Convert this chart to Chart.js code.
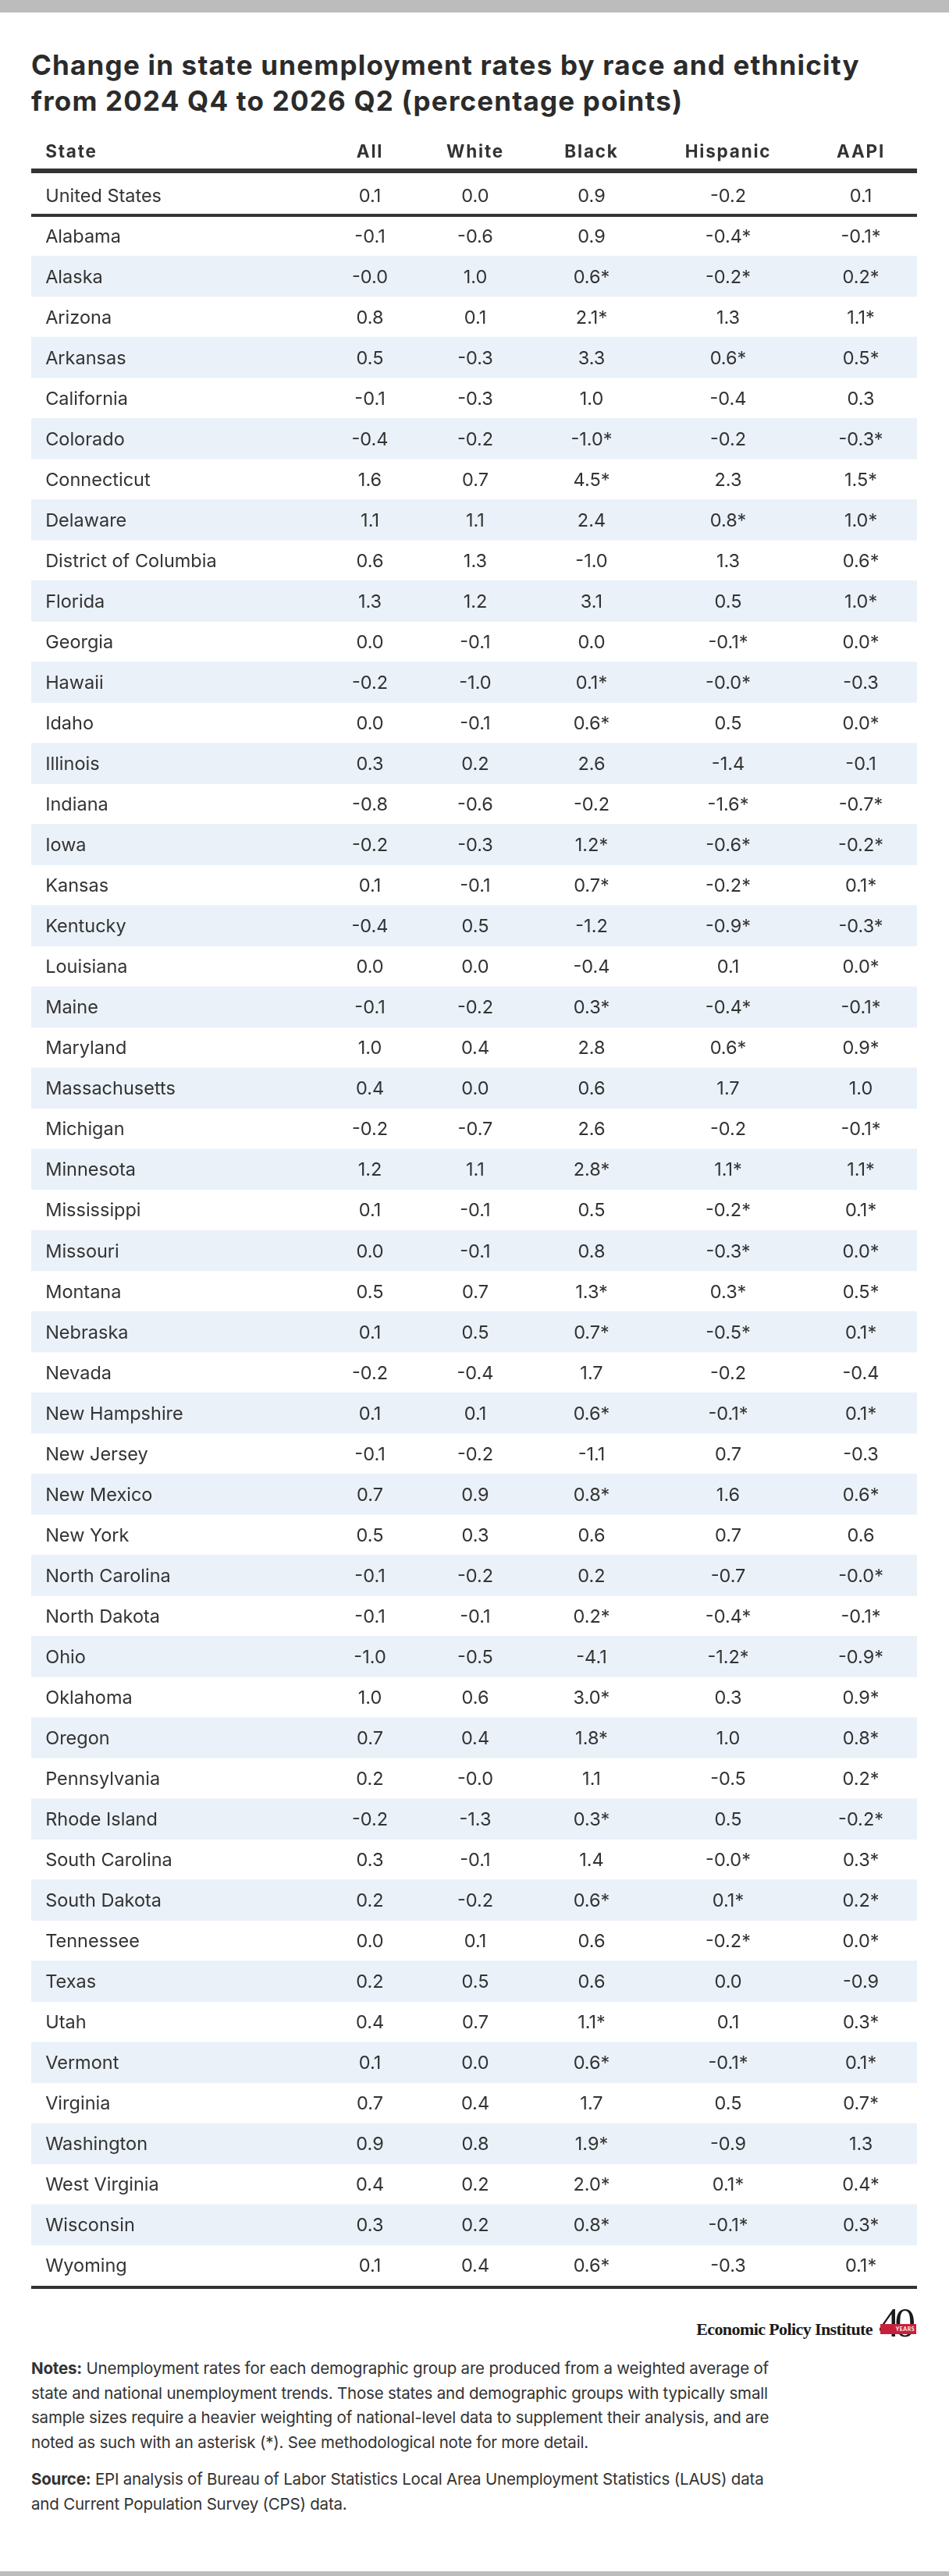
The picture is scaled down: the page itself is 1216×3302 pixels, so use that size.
<!DOCTYPE html>
<html lang="en">
<head>
	<meta charset="UTF-8">
	<meta name="viewport" content="width=device-width, initial-scale=1.0">
	<title>Change in state unemployment rates by race and ethnicity</title>
	<script src="https://cdn.jsdelivr.net/npm/chart.js"></script>
	<style>
		body {
			margin: 0;
			width: 1216px;
			height: 3302px;
			position: relative;
			overflow: hidden;
			background: #fff;
			font-family: Inter, Lato, sans-serif;
			color: #333;
		}
		.bar-top, .bar-bottom {
			position: absolute;
			left: 0;
			width: 1216px;
			background: #bcbcbc;
		}
		.bar-top { top: 0; height: 16px; }
		.bar-bottom { top: 3296px; height: 6px; }
		h1 {
			position: absolute;
			left: 40px;
			top: 60px;
			margin: 0;
			font-size: 35px;
			line-height: 46px;
			font-weight: 700;
			letter-spacing: 1.2px;
			color: #2b2b2b;
			white-space: nowrap;
		}
		#table-wrap {
			position: absolute;
			left: 0;
			top: 150px;
			width: 1216px;
			height: 2790px;
		}
		.logo-name {
			position: absolute;
			right: 98px;
			top: 2975px;
			font-family: "Liberation Serif", serif;
			font-weight: 700;
			font-size: 22px;
			line-height: 22px;
			letter-spacing: -0.6px;
			color: #1a1a1a;
			white-space: nowrap;
		}
		.logo-forty {
			position: absolute;
			left: 1126px;
			top: 2951px;
			font-family: "Liberation Serif", serif;
			font-size: 53px;
			line-height: 53px;
			letter-spacing: -6px;
			color: #1a1a1a;
		}
		.logo-years {
			position: absolute;
			left: 1128px;
			top: 2979px;
			width: 46px;
			height: 13px;
			background: #c8203b;
			color: #fff;
			font-family: Lato, sans-serif;
			font-weight: 700;
			font-size: 7px;
			line-height: 13px;
			text-align: right;
			padding-right: 2px;
			box-sizing: border-box;
			letter-spacing: 0.5px;
		}
		.notes, .source {
			position: absolute;
			left: 40px;
			margin: 0;
			font-size: 20.5px;
			line-height: 31.7px;
			letter-spacing: -0.2px;
			white-space: nowrap;
			color: #333;
		}
		.notes b, .source b { font-weight: 700; }
		.notes { top: 3020px; }
		.source { top: 3162px; }
	</style>
</head>
<body>

	<div class="bar-top"></div>

	<h1>Change in state unemployment rates by race and ethnicity<br>from 2024 Q4 to 2026 Q2 (percentage points)</h1>

	<div id="table-wrap">
		<canvas id="tableChart" width="1216" height="2790"></canvas>
	</div>

	<div class="logo-name">Economic Policy Institute</div>
	<div class="logo-forty">40</div>
	<div class="logo-years">YEARS</div>

	<p class="notes"><b>Notes:</b> Unemployment rates for each demographic group are produced from a weighted average of<br>state and national unemployment trends. Those states and demographic groups with typically small<br>sample sizes require a heavier weighting of national-level data to supplement their analysis, and are<br>noted as such with an asterisk (*). See methodological note for more detail.</p>
	<p class="source"><b>Source:</b> EPI analysis of Bureau of Labor Statistics Local Area Unemployment Statistics (LAUS) data<br>and Current Population Survey (CPS) data.</p>

	<div class="bar-bottom"></div>

	<script>
		// Table data
		const stateHeader = 'State';
		const columns = ['All', 'White', 'Black', 'Hispanic', 'AAPI'];

		const states = ['United States', 'Alabama', 'Alaska', 'Arizona', 'Arkansas', 'California', 'Colorado',
			'Connecticut', 'Delaware', 'District of Columbia', 'Florida', 'Georgia', 'Hawaii', 'Idaho', 'Illinois',
			'Indiana', 'Iowa', 'Kansas', 'Kentucky', 'Louisiana', 'Maine', 'Maryland', 'Massachusetts', 'Michigan',
			'Minnesota', 'Mississippi', 'Missouri', 'Montana', 'Nebraska', 'Nevada', 'New Hampshire', 'New Jersey',
			'New Mexico', 'New York', 'North Carolina', 'North Dakota', 'Ohio', 'Oklahoma', 'Oregon', 'Pennsylvania',
			'Rhode Island', 'South Carolina', 'South Dakota', 'Tennessee', 'Texas', 'Utah', 'Vermont', 'Virginia',
			'Washington', 'West Virginia', 'Wisconsin', 'Wyoming'];

		const allRates = [0.1, -0.1, -0.0, 0.8, 0.5, -0.1, -0.4, 1.6, 1.1, 0.6, 1.3, 0.0, -0.2, 0.0, 0.3,
			-0.8, -0.2, 0.1, -0.4, 0.0, -0.1, 1.0, 0.4, -0.2, 1.2, 0.1, 0.0, 0.5, 0.1, -0.2, 0.1, -0.1,
			0.7, 0.5, -0.1, -0.1, -1.0, 1.0, 0.7, 0.2, -0.2, 0.3, 0.2, 0.0, 0.2, 0.4, 0.1, 0.7, 0.9, 0.4, 0.3, 0.1];

		const whiteRates = [0.0, -0.6, 1.0, 0.1, -0.3, -0.3, -0.2, 0.7, 1.1, 1.3, 1.2, -0.1, -1.0, -0.1, 0.2,
			-0.6, -0.3, -0.1, 0.5, 0.0, -0.2, 0.4, 0.0, -0.7, 1.1, -0.1, -0.1, 0.7, 0.5, -0.4, 0.1, -0.2,
			0.9, 0.3, -0.2, -0.1, -0.5, 0.6, 0.4, -0.0, -1.3, -0.1, -0.2, 0.1, 0.5, 0.7, 0.0, 0.4, 0.8, 0.2, 0.2, 0.4];

		const blackRates = [0.9, 0.9, 0.6, 2.1, 3.3, 1.0, -1.0, 4.5, 2.4, -1.0, 3.1, 0.0, 0.1, 0.6, 2.6,
			-0.2, 1.2, 0.7, -1.2, -0.4, 0.3, 2.8, 0.6, 2.6, 2.8, 0.5, 0.8, 1.3, 0.7, 1.7, 0.6, -1.1,
			0.8, 0.6, 0.2, 0.2, -4.1, 3.0, 1.8, 1.1, 0.3, 1.4, 0.6, 0.6, 0.6, 1.1, 0.6, 1.7, 1.9, 2.0, 0.8, 0.6];

		const hispanicRates = [-0.2, -0.4, -0.2, 1.3, 0.6, -0.4, -0.2, 2.3, 0.8, 1.3, 0.5, -0.1, -0.0, 0.5, -1.4,
			-1.6, -0.6, -0.2, -0.9, 0.1, -0.4, 0.6, 1.7, -0.2, 1.1, -0.2, -0.3, 0.3, -0.5, -0.2, -0.1, 0.7,
			1.6, 0.7, -0.7, -0.4, -1.2, 0.3, 1.0, -0.5, 0.5, -0.0, 0.1, -0.2, 0.0, 0.1, -0.1, 0.5, -0.9, 0.1, -0.1, -0.3];

		const aapiRates = [0.1, -0.1, 0.2, 1.1, 0.5, 0.3, -0.3, 1.5, 1.0, 0.6, 1.0, 0.0, -0.3, 0.0, -0.1,
			-0.7, -0.2, 0.1, -0.3, 0.0, -0.1, 0.9, 1.0, -0.1, 1.1, 0.1, 0.0, 0.5, 0.1, -0.4, 0.1, -0.3,
			0.6, 0.6, -0.0, -0.1, -0.9, 0.9, 0.8, 0.2, -0.2, 0.3, 0.2, 0.0, -0.9, 0.3, 0.1, 0.7, 1.3, 0.4, 0.3, 0.1];

		// 1 = small sample, marked with an asterisk
		const noStars = states.map(() => 0);
		const blackStars = [0, 0, 1, 1, 0, 0, 1, 1, 0, 0, 0, 0, 1, 1, 0, 0, 1, 1, 0, 0, 1, 0, 0, 0, 1, 0,
			0, 1, 1, 0, 1, 0, 1, 0, 0, 1, 0, 1, 1, 0, 1, 0, 1, 0, 0, 1, 1, 0, 1, 1, 1, 1];
		const hispanicStars = [0, 1, 1, 0, 1, 0, 0, 0, 1, 0, 0, 1, 1, 0, 0, 1, 1, 1, 1, 0, 1, 1, 0, 0, 1, 1,
			1, 1, 1, 0, 1, 0, 0, 0, 0, 1, 1, 0, 0, 0, 0, 1, 1, 1, 0, 0, 1, 0, 0, 1, 1, 0];
		const aapiStars = [0, 1, 1, 1, 1, 0, 1, 1, 1, 1, 1, 1, 0, 1, 0, 1, 1, 1, 1, 1, 1, 1, 0, 1, 1, 1,
			1, 1, 1, 0, 1, 0, 1, 0, 1, 1, 1, 1, 1, 1, 1, 1, 1, 1, 0, 1, 1, 1, 0, 1, 1, 1];

		const series = [allRates, whiteRates, blackRates, hispanicRates, aapiRates];
		const stars = [noStars, noStars, blackStars, hispanicStars, aapiStars];

		// Layout: column anchors on the 0..1 x scale (state left edge, then column centres)
		const colPos = [0.016, 0.3824, 0.5013, 0.6326, 0.7868, 0.9366];
		const textColor = '#333';
		const bandColor = '#eaf1f9';

		const fmt = v => (Object.is(v, -0) ? '-' : '') + v.toFixed(1);

		// alternate row shading, starting with Alaska
		const bands = states.map((s, i) => (i > 0 && i % 2 === 0) ? [0, 1] : null);

		const tableText = {
			id: 'tableText',
			afterDatasetsDraw(chart) {
				const { ctx, chartArea, scales: { x, y } } = chart;
				ctx.save();
				ctx.fillStyle = textColor;

				// header row
				ctx.font = '700 22.5px Inter';
				ctx.letterSpacing = '1.8px';
				ctx.textBaseline = 'alphabetic';
				const headY = chartArea.top - 22;
				ctx.textAlign = 'left';
				ctx.fillText(stateHeader, x.getPixelForValue(colPos[0]), headY);
				ctx.textAlign = 'center';
				columns.forEach((c, j) => ctx.fillText(c, x.getPixelForValue(colPos[j + 1]), headY));

				// rules
				ctx.fillStyle = '#333';
				ctx.fillRect(chartArea.left, chartArea.top - 8, chartArea.width, 6);
				const split = (y.getPixelForValue(0) + y.getPixelForValue(1)) / 2;
				ctx.fillRect(chartArea.left, split - 2, chartArea.width, 4);
				ctx.fillRect(chartArea.left, chartArea.bottom, chartArea.width, 4);

				// body
				ctx.fillStyle = textColor;
				ctx.font = '400 23.5px Inter';
				ctx.letterSpacing = '0px';
				states.forEach((s, i) => {
					const py = y.getPixelForValue(i) + 8.5;
					ctx.textAlign = 'left';
					ctx.fillText(s, x.getPixelForValue(colPos[0]), py);
					ctx.textAlign = 'center';
					series.forEach((vals, j) => {
						const label = fmt(vals[i]) + (stars[j][i] ? '*' : '');
						ctx.fillText(label, x.getPixelForValue(colPos[j + 1]), py);
					});
				});
				ctx.restore();
			}
		};

		new Chart(document.getElementById('tableChart').getContext('2d'), {
			type: 'bar',
			data: {
				labels: states,
				datasets: [{
					data: bands,
					backgroundColor: bandColor,
					borderWidth: 0,
					barPercentage: 1,
					categoryPercentage: 1
				}]
			},
			options: {
				indexAxis: 'y',
				responsive: false,
				animation: false,
				layout: { padding: { left: 40, right: 41, top: 74, bottom: 10 } },
				scales: {
					x: { type: 'linear', min: 0, max: 1, display: false },
					y: { type: 'category', display: false }
				},
				plugins: {
					legend: { display: false },
					tooltip: { enabled: false }
				}
			},
			plugins: [tableText]
		});
	</script>

</body>
</html>
